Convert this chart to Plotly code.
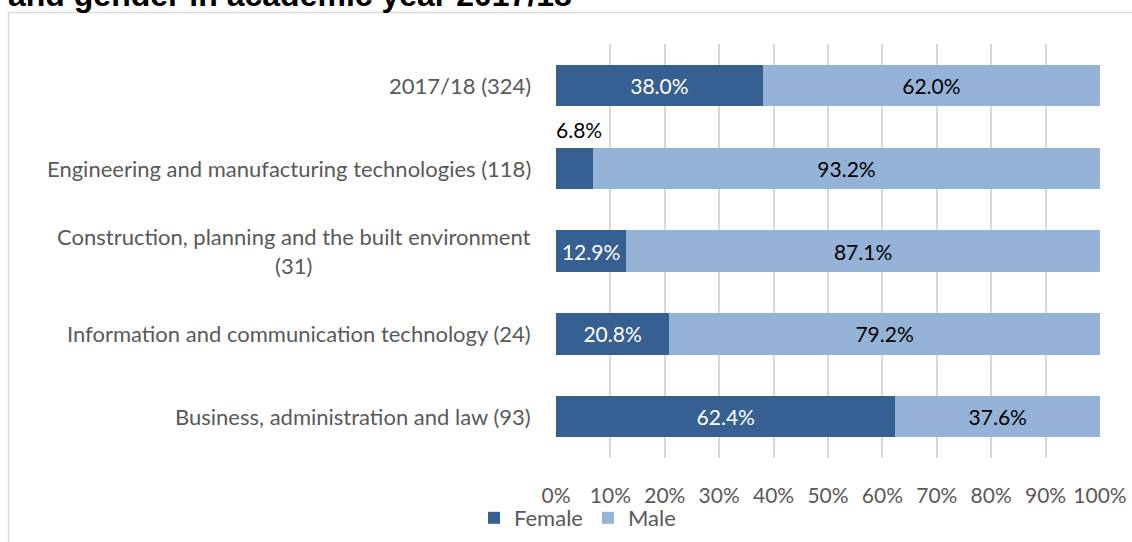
import plotly.graph_objects as go

categories = [
    "2017/18 (324)",
    "Engineering and manufacturing technologies (118)",
    "Construction, planning and the built environment<br>(31)",
    "Information and communication technology (24)",
    "Business, administration and law (93)",
]
female = [38.0, 6.8, 12.9, 20.8, 62.4]
male = [62.0, 93.2, 87.1, 79.2, 37.6]
x_ticks = [0, 10, 20, 30, 40, 50, 60, 70, 80, 90, 100]
x_tick_labels = [f"{v}%" for v in x_ticks]
title_text = "and gender in academic year 2017/18"

W, H = 1132, 542
L, R, T, B = 556, 32, 44, 84
PW, PH = W - L - R, H - T - B
FONT = "Lato"
GRAY = "#595959"
F_COL = "#376092"
M_COL = "#95B3D7"

def px_to_paper_x(px):
    return (px - L) / PW

def px_to_paper_y(py):
    return 1 - (py - T) / PH

female_text = [f"{v:.1f}%" if v >= 10 else "" for v in female]
male_text = [f"{v:.1f}%" for v in male]

fig = go.Figure()
fig.add_trace(go.Bar(
    y=categories, x=female, name="Female", orientation="h",
    marker=dict(color=F_COL, line=dict(width=0)),
    text=female_text, textposition="inside", insidetextanchor="middle",
    textfont=dict(family=FONT, size=21, color="white"),
    constraintext="none", hoverinfo="skip",
))
fig.add_trace(go.Bar(
    y=categories, x=male, name="Male", orientation="h",
    marker=dict(color=M_COL, line=dict(width=0)),
    text=male_text, textposition="inside", insidetextanchor="middle",
    textfont=dict(family=FONT, size=21, color="black"),
    constraintext="none", hoverinfo="skip",
))

annotations = []
for c in categories:
    annotations.append(dict(
        x=0, xref="paper", xshift=-23, xanchor="right", align="center",
        y=c, yref="y", yanchor="middle", showarrow=False,
        text=c, font=dict(family=FONT, size=22, color=GRAY),
    ))
for c, v in zip(categories, female):
    if v < 10:
        annotations.append(dict(
            x=0, xref="x", xanchor="left", xshift=-2,
            y=c, yref="y", yanchor="middle", yshift=39, showarrow=False,
            text=f"{v:.1f}%", font=dict(family=FONT, size=21, color="black"),
        ))
annotations.append(dict(
    x=px_to_paper_x(6), xref="paper", xanchor="left",
    y=px_to_paper_y(15), yref="paper", yanchor="bottom", showarrow=False,
    text=f"<b>{title_text}</b>",
    font=dict(family="Liberation Sans", size=32, color="black"),
))

frame = dict(color="#D9D9D9", width=1.5)
shapes = [
    dict(type="line", xref="paper", yref="paper", layer="below",
         x0=px_to_paper_x(8.5), x1=px_to_paper_x(W + 20),
         y0=px_to_paper_y(12.5), y1=px_to_paper_y(12.5), line=frame),
    dict(type="line", xref="paper", yref="paper", layer="below",
         x0=px_to_paper_x(8.5), x1=px_to_paper_x(8.5),
         y0=px_to_paper_y(12.5), y1=px_to_paper_y(H + 20), line=frame),
]

fig.update_layout(
    width=W, height=H,
    margin=dict(l=L, r=R, t=T, b=B, pad=0, autoexpand=False),
    barmode="stack", bargap=0.5,
    paper_bgcolor="white", plot_bgcolor="white",
    font=dict(family=FONT, size=20, color=GRAY),
    showlegend=True,
    legend=dict(
        orientation="h", xref="container", yref="container",
        x=474 / W, xanchor="left",
        y=1 - 497 / H, yanchor="top",
        font=dict(family=FONT, size=22, color=GRAY),
        itemwidth=30, traceorder="normal", bgcolor="rgba(0,0,0,0)",
    ),
    annotations=annotations,
    shapes=shapes,
    xaxis=dict(
        range=[0, 100], tickvals=x_ticks, ticktext=x_tick_labels,
        showgrid=True, gridcolor="#D9D9D9", gridwidth=1.5,
        zeroline=False, showline=False, automargin=False,
        ticks="outside", ticklen=19, tickcolor="rgba(0,0,0,0)",
        tickfont=dict(family=FONT, size=21, color=GRAY),
        fixedrange=True,
    ),
    yaxis=dict(
        categoryorder="array", categoryarray=categories,
        autorange="reversed", showticklabels=False, automargin=False,
        showgrid=False, zeroline=False, showline=False, fixedrange=True,
    ),
)

fig.write_html(
    "out.html", config={"displayModeBar": False},
    post_script=(
        "document.body.style.margin='0';"
        "document.body.style.overflow='hidden';"
        "document.documentElement.style.overflow='hidden';"
    ),
)
